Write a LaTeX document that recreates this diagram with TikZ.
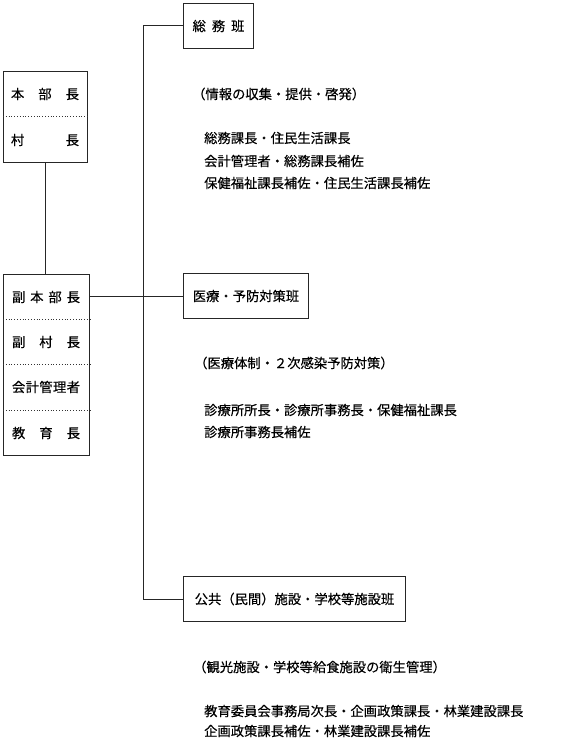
\documentclass[tikz,border=0pt]{standalone}
\usepackage{fontspec}
\newfontfamily\jp[FakeBold=0.4]{Noto Sans CJK JP}
\begin{document}
\begin{tikzpicture}[x=1pt,y=-1pt,
  box/.style={draw=black!85, line width=1pt, inner sep=0pt, anchor=north west, font=\jp\fontsize{13.3}{16}\selectfont},
  txt/.style={font=\jp\fontsize{13.3}{16}\selectfont, inner sep=0pt, anchor=west, text=black},
  cell/.style={font=\jp\fontsize{13.3}{16}\selectfont, inner sep=0pt, anchor=center, text=black},
  div/.style={dotted, line width=0.8pt, draw=black!80},
  conn/.style={draw=black!85, line width=1pt}]
\useasboundingbox (0,0) rectangle (563,743);

% team boxes
\node[box, minimum width=70pt, minimum height=45pt] (somu) at (183,3) {総\hspace{6pt}務\hspace{6pt}班};
\node[box, minimum width=125pt, minimum height=45pt] (med) at (183,273) {医療・予防対策班};
\node[box, minimum width=222pt, minimum height=45pt] (kokyo) at (183,576) {公共（民間）施設・学校等施設班};

% headquarters boxes
\node[box, minimum width=84pt, minimum height=91pt] (hq) at (3,71) {};
\draw[div] (hq.west |- 0,116) -- (hq.east |- 0,116);
\node[cell] (hq1) at (45,94) {\makebox[68pt][s]{本\hfill 部\hfill 長}};
\node[cell] (hq2) at (45,140) {\makebox[68pt][s]{村\hfill 長}};

\node[box, minimum width=86pt, minimum height=181pt] (sub) at (3,274) {};
\draw[div] (sub.west |- 0,319) -- (sub.east |- 0,319);
\draw[div] (sub.west |- 0,364) -- (sub.east |- 0,364);
\draw[div] (sub.west |- 0,410) -- (sub.east |- 0,410);
\node[cell] (s1) at (46,297) {\makebox[68pt][s]{副\hfill 本\hfill 部\hfill 長}};
\node[cell] (s2) at (46,342) {\makebox[68pt][s]{副\hfill 村\hfill 長}};
\node[cell] (s3) at (46,387) {\makebox[68pt][s]{会\hfill 計\hfill 管\hfill 理\hfill 者}};
\node[cell] (s4) at (46,433) {\makebox[68pt][s]{教\hfill 育\hfill 長}};

% connectors
\coordinate (bx) at (143,0);
\draw[conn] (hq.south) -- (hq.south |- sub.north);
\draw[conn] (somu.west) -- (bx |- somu.west) -- (bx |- kokyo.west) -- (kokyo.west);
\draw[conn] (sub.east |- med.west) -- (med.west);

% descriptions
\node[txt] (d1) at (192,94) {（情報の収集・提供・啓発）};
\node[txt] (d1a) at (204,138) {総務課長・住民生活課長};
\node[txt] (d1b) at (204,161) {会計管理者・総務課長補佐};
\node[txt] (d1c) at (204,183) {保健福祉課長補佐・住民生活課長補佐};

\node[txt] (d2) at (194,363) {（医療体制・２次感染予防対策）};
\node[txt] (d2a) at (204,410) {診療所所長・診療所事務長・保健福祉課長};
\node[txt] (d2b) at (204,432) {診療所事務長補佐};

\node[txt] (d3) at (193,667) {（観光施設・学校等給食施設の衛生管理）};
\node[txt] (d3a) at (204,711) {教育委員会事務局次長・企画政策課長・林業建設課長};
\node[txt] (d3b) at (204,731) {企画政策課長補佐・林業建設課長補佐};
\end{tikzpicture}
\end{document}
